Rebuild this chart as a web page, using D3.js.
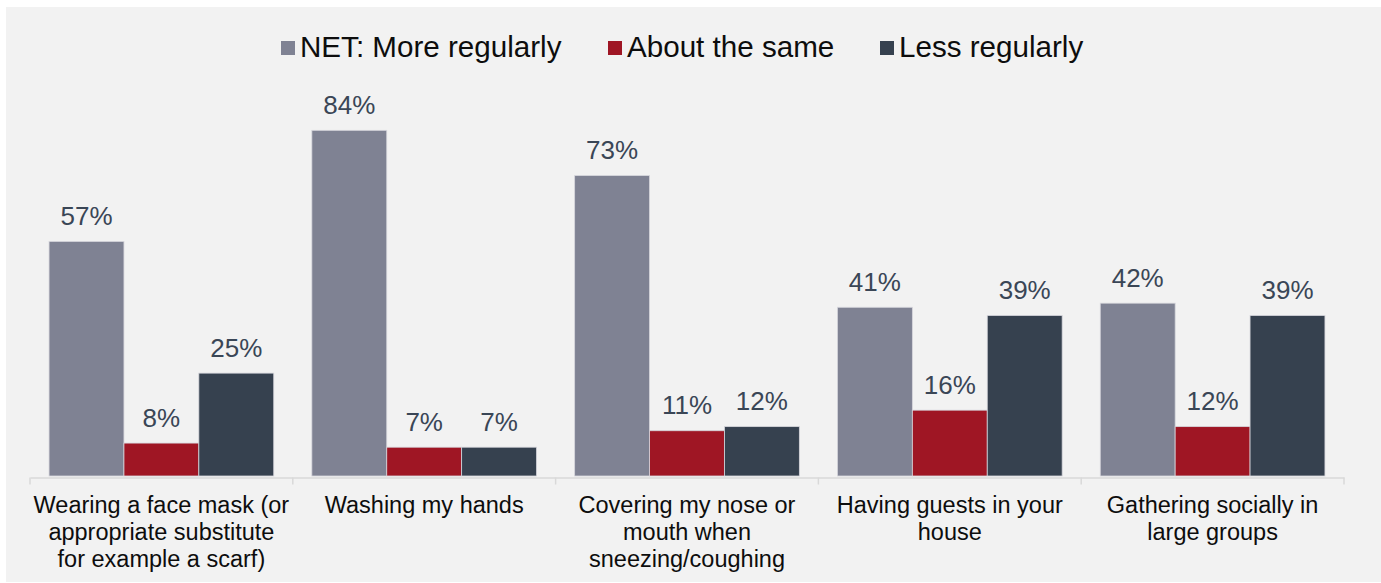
<!DOCTYPE html>
<html>
<head>
<meta charset="utf-8">
<script src="https://cdn.jsdelivr.net/npm/d3@7/dist/d3.min.js"></script>
<style>
  html, body { margin: 0; padding: 0; background: #ffffff; }
  svg { display: block; }
  text { font-family: "Liberation Sans", Arial, sans-serif; }
</style>
</head>
<body>
<svg id="chart" width="1381" height="583"></svg>
<script>
const categories = [
  ["Wearing a face mask (or", "appropriate substitute", "for example a scarf)"],
  ["Washing my hands"],
  ["Covering my nose or", "mouth when", "sneezing/coughing"],
  ["Having guests in your", "house"],
  ["Gathering socially in", "large groups"]
];
const seriesNames = ["NET: More regularly", "About the same", "Less regularly"];
const moreRegularly = [57, 84, 73, 41, 42];
const aboutSame = [8, 7, 11, 16, 12];
const lessRegularly = [25, 7, 12, 39, 39];
const seriesColors = ["#7f8293", "#9f1624", "#36414f"];

const seriesValues = [moreRegularly, aboutSame, lessRegularly];
const W = 1381, H = 583;
const svg = d3.select("#chart");

// panel background
svg.append("rect").attr("x", 6).attr("y", 7).attr("width", W - 6).attr("height", 575).attr("fill", "#f2f2f2");

const catIdx = categories.map((d, i) => i);
const x0 = d3.scaleBand().domain(catIdx).range([30, 1344]).paddingInner(0).paddingOuter(0);
const bw = x0.bandwidth();
const x1 = d3.scaleBand().domain(d3.range(seriesNames.length)).range([bw * 0.0725, bw * 0.9275]).padding(0);
const y = d3.scaleLinear().domain([0, 100]).range([476, 64.5]);

const groups = svg.append("g").selectAll("g").data(catIdx).join("g")
  .attr("transform", i => `translate(${x0(i)},0)`);

groups.selectAll("rect").data(i => seriesValues.map((vals, s) => ({ s, v: vals[i] }))).join("rect")
  .attr("x", d => x1(d.s))
  .attr("y", d => y(d.v))
  .attr("width", x1.bandwidth())
  .attr("height", d => y(0) - y(d.v))
  .attr("fill", d => seriesColors[d.s])
  .attr("stroke", "#d6d6dc")
  .attr("stroke-width", 0.8);

groups.selectAll("text.val").data(i => seriesValues.map((vals, s) => ({ s, v: vals[i] }))).join("text")
  .attr("class", "val")
  .attr("x", d => x1(d.s) + x1.bandwidth() / 2)
  .attr("y", d => y(d.v) - 16.5)
  .attr("text-anchor", "middle")
  .attr("font-size", 26)
  .attr("fill", "#3a4656")
  .text(d => d.v + "%");

// axis
const axisG = svg.append("g").attr("transform", `translate(0,${y(0) + 1.5})`);
axisG.call(d3.axisBottom(x0).tickValues([]).tickSizeOuter(0));
axisG.select(".domain").attr("stroke", "#d9d9d9").attr("stroke-width", 1.5);
const boundaries = catIdx.map(i => x0(i)).concat([x0(catIdx[catIdx.length - 1]) + bw]);
axisG.selectAll("line.bnd").data(boundaries).join("line")
  .attr("class", "bnd")
  .attr("x1", d => d).attr("x2", d => d)
  .attr("y1", 0).attr("y2", 7)
  .attr("stroke", "#d9d9d9").attr("stroke-width", 1.5);

// category labels
const labG = svg.append("g");
labG.selectAll("text").data(catIdx).join("text")
  .attr("x", i => x0(i) + bw / 2)
  .attr("y", 513)
  .attr("text-anchor", "middle")
  .attr("font-size", 23.5)
  .attr("fill", "#0d0d0d")
  .each(function(i) {
    const t = d3.select(this);
    categories[i].forEach((line, k) => {
      t.append("tspan").attr("x", x0(i) + bw / 2).attr("dy", k === 0 ? 0 : 27).text(line);
    });
  });

// legend
const legendX = [281, 608, 880];
const leg = svg.append("g");
seriesNames.forEach((name, s) => {
  leg.append("rect").attr("x", legendX[s]).attr("y", 41).attr("width", 14).attr("height", 14).attr("fill", seriesColors[s]);
  leg.append("text").attr("x", legendX[s] + 19).attr("y", 56.5)
    .attr("font-size", 29.6).attr("fill", "#0d0d0d").text(name);
});
</script>
</body>
</html>
